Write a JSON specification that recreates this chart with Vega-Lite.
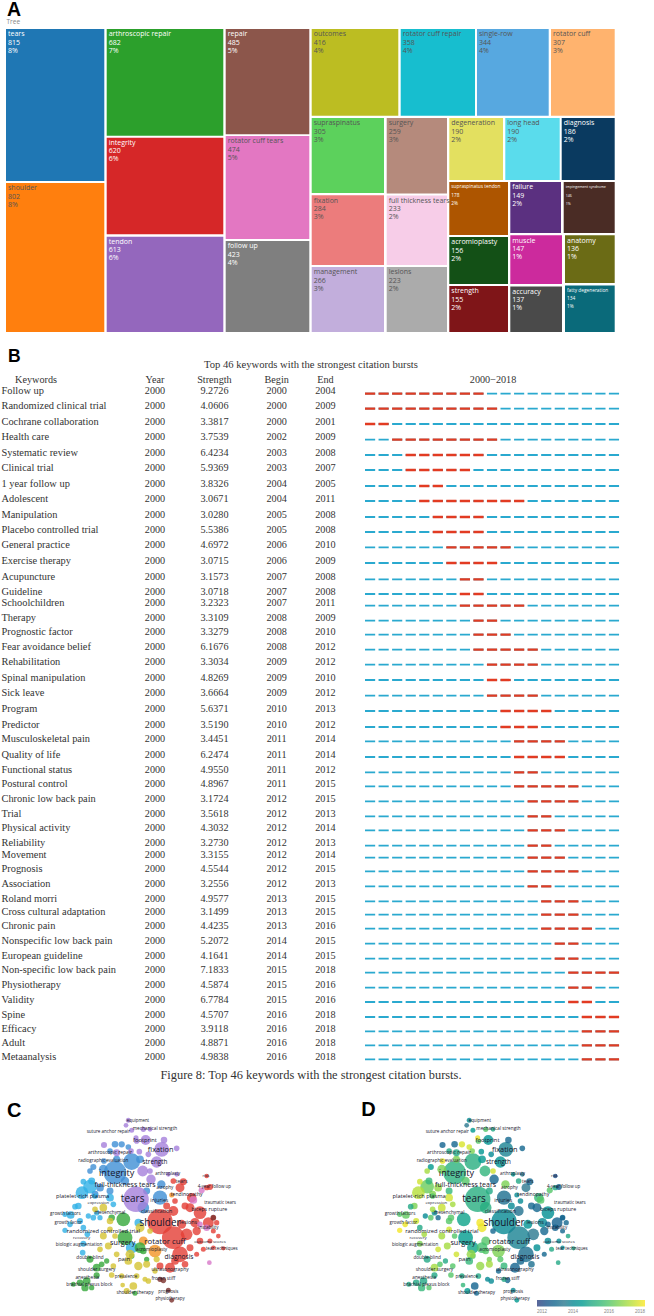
{"$schema":"https://vega.github.io/schema/vega-lite/v6.json","padding":0,"spacing":0,"bounds":"flush","background":"white","config":{"view":{"stroke":null},"axis":{"disable":true},"text":{"font":"Open Sans"}},
"datasets":{
"one":[{"note":"single annotation"}],
"cells":[
{"name":"tears","n":815,"pct":"8%","x0":6,"x1":104.3,"y0":28,"y1":180},
{"name":"shoulder","n":802,"pct":"8%","x0":6,"x1":104.3,"y0":182,"y1":331},
{"name":"arthroscopic repair","n":682,"pct":"7%","x0":106.7,"x1":223.3,"y0":28,"y1":134.7},
{"name":"integrity","n":620,"pct":"6%","x0":106.7,"x1":223.3,"y0":136.7,"y1":233.3},
{"name":"tendon","n":613,"pct":"6%","x0":106.7,"x1":223.3,"y0":235.7,"y1":331},
{"name":"repair","n":485,"pct":"5%","x0":225.7,"x1":309.3,"y0":28,"y1":133.3},
{"name":"rotator cuff tears","n":474,"pct":"5%","x0":225.7,"x1":309.3,"y0":135,"y1":238},
{"name":"follow up","n":423,"pct":"4%","x0":225.7,"x1":309.3,"y0":240,"y1":331},
{"name":"outcomes","n":416,"pct":"4%","x0":311.7,"x1":398.3,"y0":28,"y1":114.7},
{"name":"rotator cuff repair","n":358,"pct":"4%","x0":400.7,"x1":475,"y0":28,"y1":114.7},
{"name":"single-row","n":344,"pct":"4%","x0":477,"x1":548.7,"y0":28,"y1":114.7},
{"name":"rotator cuff","n":307,"pct":"3%","x0":551,"x1":614.7,"y0":28,"y1":114.7},
{"name":"supraspinatus","n":305,"pct":"3%","x0":311.7,"x1":384,"y0":117,"y1":192},
{"name":"surgery","n":259,"pct":"3%","x0":386.7,"x1":447,"y0":117,"y1":192.5},
{"name":"degeneration","n":190,"pct":"2%","x0":449.3,"x1":503,"y0":117,"y1":179},
{"name":"long head","n":190,"pct":"2%","x0":505.3,"x1":559.7,"y0":117,"y1":179},
{"name":"diagnosis","n":186,"pct":"2%","x0":561.7,"x1":614.7,"y0":117,"y1":179},
{"name":"fixation","n":284,"pct":"3%","x0":311.7,"x1":384,"y0":194.3,"y1":264},
{"name":"full thickness tears","n":233,"pct":"2%","x0":386.7,"x1":447,"y0":194.5,"y1":264},
{"name":"management","n":266,"pct":"3%","x0":311.7,"x1":384,"y0":266,"y1":331},
{"name":"lesions","n":223,"pct":"2%","x0":386.7,"x1":447,"y0":266,"y1":331},
{"name":"supraspinatus tendon","n":178,"pct":"2%","x0":449.3,"x1":508,"y0":181,"y1":234},
{"name":"failure","n":149,"pct":"2%","x0":510.3,"x1":561,"y0":181,"y1":232},
{"name":"impingement syndrome","n":146,"pct":"1%","x0":563.7,"x1":614.7,"y0":181,"y1":232},
{"name":"acromioplasty","n":156,"pct":"2%","x0":449.3,"x1":508,"y0":236,"y1":283},
{"name":"muscle","n":147,"pct":"1%","x0":510.3,"x1":562,"y0":234.3,"y1":283},
{"name":"anatomy","n":136,"pct":"1%","x0":565,"x1":614.7,"y0":234.3,"y1":282},
{"name":"strength","n":155,"pct":"2%","x0":449.3,"x1":508,"y0":285,"y1":331},
{"name":"accuracy","n":137,"pct":"1%","x0":510.3,"x1":562,"y0":285.5,"y1":331},
{"name":"fatty degeneration","n":134,"pct":"1%","x0":565,"x1":614.7,"y0":284.5,"y1":331}
],
"keywords":[
{"keyword":"Follow up","year":2000,"strength":"9.2726","begin":2000,"end":2004,"barEnd":2008,"line":390.3},
{"keyword":"Randomized clinical trial","year":2000,"strength":"4.0606","begin":2000,"end":2009,"barEnd":2009,"line":405.3},
{"keyword":"Cochrane collaboration","year":2000,"strength":"3.3817","begin":2000,"end":2001,"barEnd":2001,"line":420.7},
{"keyword":"Health care","year":2000,"strength":"3.7539","begin":2002,"end":2009,"barEnd":2009,"line":436.3},
{"keyword":"Systematic review","year":2000,"strength":"6.4234","begin":2003,"end":2008,"barEnd":2008,"line":451.7},
{"keyword":"Clinical trial","year":2000,"strength":"5.9369","begin":2003,"end":2007,"barEnd":2007,"line":466.7},
{"keyword":"1 year follow up","year":2000,"strength":"3.8326","begin":2004,"end":2005,"barEnd":2005,"line":482.7},
{"keyword":"Adolescent","year":2000,"strength":"3.0671","begin":2004,"end":2011,"barEnd":2011,"line":497.7},
{"keyword":"Manipulation","year":2000,"strength":"3.0280","begin":2005,"end":2008,"barEnd":2008,"line":513.7},
{"keyword":"Placebo controlled trial","year":2000,"strength":"5.5386","begin":2005,"end":2008,"barEnd":2008,"line":528.7},
{"keyword":"General practice","year":2000,"strength":"4.6972","begin":2006,"end":2010,"barEnd":2010,"line":544},
{"keyword":"Exercise therapy","year":2000,"strength":"3.0715","begin":2006,"end":2009,"barEnd":2009,"line":559.7},
{"keyword":"Acupuncture","year":2000,"strength":"3.1573","begin":2007,"end":2008,"barEnd":2008,"line":576},
{"keyword":"Guideline","year":2000,"strength":"3.0718","begin":2007,"end":2008,"barEnd":2008,"line":590.7},
{"keyword":"Schoolchildren","year":2000,"strength":"3.2323","begin":2007,"end":2011,"barEnd":2011,"line":602.3},
{"keyword":"Therapy","year":2000,"strength":"3.3109","begin":2008,"end":2009,"barEnd":2009,"line":617.3},
{"keyword":"Prognostic factor","year":2000,"strength":"3.3279","begin":2008,"end":2010,"barEnd":2010,"line":631.3},
{"keyword":"Fear avoidance belief","year":2000,"strength":"6.1676","begin":2008,"end":2012,"barEnd":2012,"line":646.3},
{"keyword":"Rehabilitation","year":2000,"strength":"3.3034","begin":2009,"end":2012,"barEnd":2012,"line":661.3},
{"keyword":"Spinal manipulation","year":2000,"strength":"4.8269","begin":2009,"end":2010,"barEnd":2010,"line":676.7},
{"keyword":"Sick leave","year":2000,"strength":"3.6664","begin":2009,"end":2012,"barEnd":2012,"line":692.3},
{"keyword":"Program","year":2000,"strength":"5.6371","begin":2010,"end":2013,"barEnd":2013,"line":707.7},
{"keyword":"Predictor","year":2000,"strength":"3.5190","begin":2010,"end":2012,"barEnd":2012,"line":723.7},
{"keyword":"Musculoskeletal pain","year":2000,"strength":"3.4451","begin":2011,"end":2014,"barEnd":2014,"line":738},
{"keyword":"Quality of life","year":2000,"strength":"6.2474","begin":2011,"end":2014,"barEnd":2014,"line":753.7},
{"keyword":"Functional status","year":2000,"strength":"4.9550","begin":2011,"end":2012,"barEnd":2012,"line":769},
{"keyword":"Postural control","year":2000,"strength":"4.8967","begin":2011,"end":2015,"barEnd":2015,"line":783},
{"keyword":"Chronic low back pain","year":2000,"strength":"3.1724","begin":2012,"end":2015,"barEnd":2015,"line":798},
{"keyword":"Trial","year":2000,"strength":"3.5618","begin":2012,"end":2013,"barEnd":2013,"line":813},
{"keyword":"Physical activity","year":2000,"strength":"4.3032","begin":2012,"end":2014,"barEnd":2014,"line":827},
{"keyword":"Reliability","year":2000,"strength":"3.2730","begin":2012,"end":2013,"barEnd":2013,"line":842.3},
{"keyword":"Movement","year":2000,"strength":"3.3155","begin":2012,"end":2014,"barEnd":2014,"line":854.3},
{"keyword":"Prognosis","year":2000,"strength":"4.5544","begin":2012,"end":2015,"barEnd":2015,"line":868},
{"keyword":"Association","year":2000,"strength":"3.2556","begin":2012,"end":2013,"barEnd":2013,"line":883},
{"keyword":"Roland morri","year":2000,"strength":"4.9577","begin":2013,"end":2015,"barEnd":2015,"line":898},
{"keyword":"Cross cultural adaptation","year":2000,"strength":"3.1499","begin":2013,"end":2015,"barEnd":2015,"line":911.3},
{"keyword":"Chronic pain","year":2000,"strength":"4.4235","begin":2013,"end":2016,"barEnd":2016,"line":925.3},
{"keyword":"Nonspecific low back pain","year":2000,"strength":"5.2072","begin":2014,"end":2015,"barEnd":2015,"line":940.3},
{"keyword":"European guideline","year":2000,"strength":"4.1641","begin":2014,"end":2015,"barEnd":2015,"line":955.3},
{"keyword":"Non-specific low back pain","year":2000,"strength":"7.1833","begin":2015,"end":2018,"barEnd":2018,"line":969.3},
{"keyword":"Physiotherapy","year":2000,"strength":"4.5874","begin":2015,"end":2016,"barEnd":2016,"line":984.3},
{"keyword":"Validity","year":2000,"strength":"6.7784","begin":2015,"end":2016,"barEnd":2016,"line":998.7},
{"keyword":"Spine","year":2000,"strength":"4.5707","begin":2016,"end":2018,"barEnd":2018,"line":1013.7},
{"keyword":"Efficacy","year":2000,"strength":"3.9118","begin":2016,"end":2018,"barEnd":2018,"line":1028},
{"keyword":"Adult","year":2000,"strength":"4.8871","begin":2016,"end":2018,"barEnd":2018,"line":1042},
{"keyword":"Metaanalysis","year":2000,"strength":"4.9838","begin":2016,"end":2018,"barEnd":2018,"line":1056}
],
"bubbles":[
{"x":345,"y":245,"n":620,"cluster":"blue","year":2015.3},{"x":395,"y":212,"n":300,"cluster":"blue","year":2015.2},{"x":310,"y":235,"n":60,"cluster":"blue","year":2016.5},{"x":420,"y":205,"n":40,"cluster":"blue","year":2014.5},{"x":365,"y":160,"n":22,"cluster":"blue","year":2017.6},{"x":385,"y":168,"n":15,"cluster":"blue","year":2017.5},{"x":345,"y":160,"n":25,"cluster":"blue","year":2013},{"x":330,"y":180,"n":15,"cluster":"blue","year":2015},{"x":312,"y":210,"n":15,"cluster":"blue","year":2017.8},{"x":280,"y":228,"n":20,"cluster":"blue","year":2014.5},{"x":270,"y":240,"n":15,"cluster":"blue","year":2017},{"x":330,"y":300,"n":30,"cluster":"blue","year":2015.5},{"x":300,"y":290,"n":40,"cluster":"blue","year":2016.8},{"x":480,"y":320,"n":200,"cluster":"blue","year":2013.2},{"x":484,"y":280,"n":50,"cluster":"blue","year":2016.5},{"x":440,"y":300,"n":30,"cluster":"blue","year":2015},{"x":430,"y":350,"n":120,"cluster":"blue","year":2015.2},{"x":375,"y":270,"n":50,"cluster":"blue","year":2016},{"x":350,"y":205,"n":30,"cluster":"blue","year":2016.5},{"x":285,"y":310,"n":30,"cluster":"blue","year":2016.6},
{"x":270,"y":287,"n":180,"cluster":"sky","year":2016.3},{"x":246,"y":305,"n":150,"cluster":"sky","year":2017.2},{"x":275,"y":270,"n":30,"cluster":"sky","year":2015.5},{"x":250,"y":272,"n":15,"cluster":"sky","year":2017.5},{"x":235,"y":345,"n":25,"cluster":"sky","year":2016.5},{"x":225,"y":347,"n":15,"cluster":"sky","year":2015},{"x":212,"y":372,"n":40,"cluster":"sky","year":2016.2},{"x":195,"y":370,"n":12,"cluster":"sky","year":2016},{"x":210,"y":400,"n":15,"cluster":"sky","year":2017.8},{"x":240,"y":390,"n":20,"cluster":"sky","year":2017.5},{"x":290,"y":365,"n":15,"cluster":"sky","year":2014},{"x":300,"y":380,"n":12,"cluster":"sky","year":2013},{"x":280,"y":380,"n":15,"cluster":"sky","year":2016},{"x":195,"y":418,"n":12,"cluster":"sky","year":2017.9},{"x":250,"y":410,"n":15,"cluster":"sky","year":2015},{"x":262,"y":430,"n":15,"cluster":"sky","year":2017},{"x":250,"y":458,"n":18,"cluster":"sky","year":2016.5},{"x":248,"y":485,"n":15,"cluster":"sky","year":2015.5},{"x":330,"y":320,"n":40,"cluster":"sky","year":2017.5},{"x":415,"y":395,"n":40,"cluster":"sky","year":2017.9},{"x":395,"y":470,"n":120,"cluster":"sky","year":2014.8},{"x":285,"y":315,"n":15,"cluster":"sky","year":2016},{"x":265,"y":375,"n":12,"cluster":"sky","year":2014},{"x":340,"y":340,"n":15,"cluster":"sky","year":2017},
{"x":485,"y":175,"n":220,"cluster":"purple","year":2013.8},{"x":437,"y":147,"n":80,"cluster":"purple","year":2014.3},{"x":428,"y":240,"n":100,"cluster":"purple","year":2015.4},{"x":470,"y":213,"n":110,"cluster":"purple","year":2014.3},{"x":492,"y":147,"n":25,"cluster":"purple","year":2013},{"x":410,"y":150,"n":15,"cluster":"purple","year":2016},{"x":530,"y":172,"n":15,"cluster":"purple","year":2013},{"x":312,"y":162,"n":20,"cluster":"purple","year":2012.9},{"x":350,"y":185,"n":30,"cluster":"purple","year":2015},{"x":393,"y":180,"n":15,"cluster":"purple","year":2016.5},{"x":418,"y":182,"n":15,"cluster":"purple","year":2014.4},{"x":453,"y":265,"n":70,"cluster":"purple","year":2013},{"x":385,"y":88,"n":10,"cluster":"purple","year":2014},{"x":378,"y":103,"n":8,"cluster":"purple","year":2013.5},{"x":395,"y":118,"n":10,"cluster":"purple","year":2014.5},{"x":430,"y":115,"n":12,"cluster":"purple","year":2016},{"x":450,"y":115,"n":8,"cluster":"purple","year":2015},{"x":408,"y":140,"n":10,"cluster":"purple","year":2017.8},{"x":450,"y":240,"n":15,"cluster":"purple","year":2017.5},{"x":530,"y":250,"n":8,"cluster":"purple","year":2013.4},{"x":505,"y":250,"n":8,"cluster":"purple","year":2014.5},{"x":445,"y":190,"n":15,"cluster":"purple","year":2014},
{"x":480,"y":392,"n":802,"cluster":"red","year":2014},{"x":520,"y":440,"n":620,"cluster":"red","year":2013.8},{"x":540,"y":490,"n":250,"cluster":"red","year":2013.2},{"x":600,"y":365,"n":150,"cluster":"red","year":2014.2},{"x":625,"y":395,"n":100,"cluster":"red","year":2012.8},{"x":570,"y":350,"n":60,"cluster":"red","year":2013},{"x":540,"y":290,"n":60,"cluster":"red","year":2013.5},{"x":550,"y":272,"n":30,"cluster":"red","year":2013},{"x":520,"y":270,"n":15,"cluster":"red","year":2015},{"x":575,"y":320,"n":70,"cluster":"red","year":2015.5},{"x":560,"y":430,"n":120,"cluster":"red","year":2013.5},{"x":620,"y":290,"n":12,"cluster":"red","year":2015},{"x":630,"y":288,"n":18,"cluster":"red","year":2012.8},{"x":590,"y":420,"n":50,"cluster":"red","year":2013},{"x":510,"y":530,"n":80,"cluster":"red","year":2012.9},{"x":525,"y":510,"n":40,"cluster":"red","year":2013},{"x":480,"y":525,"n":30,"cluster":"red","year":2015.5},{"x":555,"y":520,"n":25,"cluster":"red","year":2013.2},{"x":600,"y":450,"n":25,"cluster":"red","year":2014},{"x":650,"y":395,"n":12,"cluster":"red","year":2013},{"x":640,"y":380,"n":10,"cluster":"red","year":2012.6},{"x":620,"y":255,"n":6,"cluster":"red","year":2012.4},{"x":655,"y":435,"n":8,"cluster":"red","year":2015},{"x":640,"y":420,"n":10,"cluster":"red","year":2013},{"x":630,"y":450,"n":10,"cluster":"red","year":2014},{"x":610,"y":475,"n":10,"cluster":"red","year":2015},{"x":590,"y":490,"n":10,"cluster":"red","year":2013},{"x":570,"y":470,"n":30,"cluster":"red","year":2014.2},{"x":520,"y":360,"n":80,"cluster":"red","year":2013.3},{"x":500,"y":345,"n":30,"cluster":"red","year":2014},{"x":525,"y":330,"n":15,"cluster":"red","year":2014},{"x":640,"y":470,"n":6,"cluster":"red","year":2014},{"x":670,"y":472,"n":5,"cluster":"red","year":2015},{"x":555,"y":345,"n":30,"cluster":"red","year":2013},{"x":585,"y":395,"n":70,"cluster":"red","year":2014},{"x":545,"y":400,"n":60,"cluster":"red","year":2014.3},
{"x":580,"y":327,"n":40,"cluster":"pink","year":2016},{"x":605,"y":298,"n":20,"cluster":"pink","year":2016},{"x":628,"y":515,"n":8,"cluster":"pink","year":2015},{"x":620,"y":410,"n":25,"cluster":"pink","year":2012.8},{"x":600,"y":400,"n":15,"cluster":"pink","year":2013},
{"x":490,"y":568,"n":15,"cluster":"brown","year":2013},{"x":505,"y":598,"n":10,"cluster":"brown","year":2014},{"x":515,"y":628,"n":8,"cluster":"brown","year":2014.5},{"x":480,"y":565,"n":12,"cluster":"brown","year":2015},{"x":640,"y":380,"n":15,"cluster":"brown","year":2013},
{"x":465,"y":480,"n":150,"cluster":"orange","year":2016.5},{"x":430,"y":450,"n":60,"cluster":"orange","year":2016},{"x":515,"y":312,"n":10,"cluster":"orange","year":2014},
{"x":370,"y":385,"n":180,"cluster":"green","year":2014.8},{"x":375,"y":440,"n":220,"cluster":"green","year":2014.6},{"x":420,"y":470,"n":100,"cluster":"green","year":2015.8},{"x":335,"y":380,"n":25,"cluster":"green","year":2016},{"x":270,"y":505,"n":30,"cluster":"green","year":2015},{"x":290,"y":530,"n":40,"cluster":"green","year":2017},{"x":305,"y":520,"n":15,"cluster":"green","year":2016},{"x":290,"y":553,"n":20,"cluster":"green","year":2015},{"x":260,"y":570,"n":40,"cluster":"green","year":2015},{"x":255,"y":590,"n":35,"cluster":"green","year":2015.5},{"x":240,"y":575,"n":25,"cluster":"green","year":2015},{"x":275,"y":590,"n":12,"cluster":"green","year":2016},{"x":320,"y":510,"n":12,"cluster":"green","year":2015},{"x":405,"y":607,"n":10,"cluster":"green","year":2013},{"x":430,"y":480,"n":25,"cluster":"green","year":2016},{"x":395,"y":495,"n":15,"cluster":"green","year":2016},{"x":220,"y":580,"n":10,"cluster":"green","year":2015},{"x":440,"y":505,"n":12,"cluster":"green","year":2016.5},
{"x":310,"y":350,"n":40,"cluster":"yellow","year":2017.4},{"x":285,"y":355,"n":15,"cluster":"yellow","year":2017},{"x":330,"y":390,"n":25,"cluster":"yellow","year":2016},{"x":310,"y":435,"n":30,"cluster":"yellow","year":2017},{"x":325,"y":465,"n":30,"cluster":"yellow","year":2017},{"x":330,"y":415,"n":15,"cluster":"yellow","year":2017.5},{"x":345,"y":435,"n":15,"cluster":"yellow","year":2016},{"x":420,"y":410,"n":60,"cluster":"yellow","year":2017.8},{"x":390,"y":490,"n":60,"cluster":"yellow","year":2016.8},{"x":415,"y":525,"n":50,"cluster":"yellow","year":2016.8},{"x":385,"y":510,"n":40,"cluster":"yellow","year":2015.5},{"x":440,"y":520,"n":30,"cluster":"yellow","year":2017},{"x":400,"y":585,"n":40,"cluster":"yellow","year":2012.9},{"x":380,"y":600,"n":20,"cluster":"yellow","year":2014.5},{"x":335,"y":552,"n":15,"cluster":"yellow","year":2016},{"x":365,"y":555,"n":12,"cluster":"yellow","year":2015},{"x":445,"y":570,"n":15,"cluster":"yellow","year":2014},{"x":410,"y":555,"n":15,"cluster":"yellow","year":2015},{"x":350,"y":490,"n":15,"cluster":"yellow","year":2017.5},{"x":470,"y":505,"n":20,"cluster":"yellow","year":2016},{"x":465,"y":540,"n":12,"cluster":"yellow","year":2013},{"x":435,"y":565,"n":10,"cluster":"yellow","year":2014},{"x":368,"y":582,"n":8,"cluster":"yellow","year":2015.5},{"x":300,"y":475,"n":15,"cluster":"yellow","year":2017.5},{"x":340,"y":525,"n":15,"cluster":"yellow","year":2016},{"x":450,"y":420,"n":15,"cluster":"yellow","year":2013},
{"x":408,"y":325,"n":815,"cluster":"purple","year":2015.2}
],
"labels":[
{"x":398,"y":325,"label":"tears","n":815},{"x":480,"y":395,"label":"shoulder","n":802},{"x":350,"y":246,"label":"integrity","n":620},{"x":495,"y":453,"label":"rotator cuff","n":360},{"x":482,"y":178,"label":"fixation","n":284},{"x":375,"y":281,"label":"full-thickness tears","n":233},{"x":368,"y":455,"label":"surgery","n":259},{"x":465,"y":214,"label":"strength","n":155},{"x":537,"y":497,"label":"diagnosis","n":186},{"x":435,"y":148,"label":"footprint","n":100},{"x":248,"y":314,"label":"platelet-rich plasma","n":100},{"x":310,"y":420,"label":"randomized controlled trial","n":100},{"x":372,"y":505,"label":"pain","n":120},{"x":470,"y":360,"label":"classification","n":60},{"x":565,"y":392,"label":"lesions","n":70},{"x":628,"y":355,"label":"biceps rupture","n":60},{"x":560,"y":310,"label":"tendinopathy","n":50},{"x":478,"y":326,"label":"injuries","n":60},{"x":545,"y":272,"label":"tears","n":40},{"x":495,"y":292,"label":"atrophy","n":25},{"x":330,"y":185,"label":"arthroscopic repair","n":40},{"x":310,"y":209,"label":"radiographic evaluation","n":22},{"x":325,"y":123,"label":"suture anchor repair","n":20},{"x":465,"y":115,"label":"mechanical strength","n":28},{"x":414,"y":90,"label":"equipment","n":15},{"x":643,"y":289,"label":"4-year follow up","n":18},{"x":660,"y":337,"label":"traumatic tears","n":18},{"x":618,"y":254,"label":"risk","n":10},{"x":665,"y":473,"label":"tear techniques","n":15},{"x":510,"y":538,"label":"ultrasonography","n":35},{"x":290,"y":537,"label":"shoulder surgery","n":30},{"x":262,"y":562,"label":"anesthesia","n":30},{"x":268,"y":582,"label":"brachial plexus block","n":30},{"x":405,"y":606,"label":"shoulder therapy","n":25},{"x":270,"y":500,"label":"double-blind","n":25},{"x":490,"y":565,"label":"frozen stiff","n":30},{"x":196,"y":368,"label":"growth factors","n":20},{"x":205,"y":397,"label":"growth factor","n":15},{"x":330,"y":366,"label":"mesenchymal","n":30},{"x":237,"y":461,"label":"biologic augmentation","n":18},{"x":245,"y":442,"label":"recovery","n":12},{"x":510,"y":625,"label":"physiotherapy","n":15},{"x":505,"y":602,"label":"prognosis","n":15},{"x":455,"y":478,"label":"acromioplasty","n":30},{"x":378,"y":558,"label":"prevalence","n":15},{"x":503,"y":250,"label":"arthroplasty","n":15},{"x":295,"y":337,"label":"expression","n":12},{"x":625,"y":410,"label":"instability","n":20},{"x":630,"y":452,"label":"outcome scores","n":12}
]},
"vconcat":[
{"width":654,"height":340,
"layer":[
{"data":{"name":"cells"},
"encoding":{"x":{"field":"x0","type":"quantitative","scale":{"domain":[0,654],"nice":false,"zero":false}},"y":{"field":"y0","type":"quantitative","scale":{"domain":[0,340],"reverse":true,"nice":false,"zero":false}}},
"layer":[
{"mark":{"type":"rect"},"encoding":{"x2":{"field":"x1"},"y2":{"field":"y1"},"color":{"field":"name","type":"nominal","legend":null,"scale":{"domain":["tears","shoulder","arthroscopic repair","integrity","tendon","repair","rotator cuff tears","follow up","outcomes","rotator cuff repair","single-row","rotator cuff","supraspinatus","surgery","degeneration","long head","diagnosis","fixation","full thickness tears","management","lesions","supraspinatus tendon","failure","impingement syndrome","acromioplasty","muscle","anatomy","strength","accuracy","fatty degeneration"],"range":["#1f77b4","#ff7f0e","#2ca02c","#d62728","#9467bd","#8c564b","#e377c2","#7f7f7f","#bcbd22","#17becf","#57a8e0","#ffb36e","#5cd15c","#b58a7c","#e3e060","#5adcec","#0a3a60","#ec7c7c","#f7cde8","#c2aedc","#ababab","#ad5500","#5b3080","#4a2c25","#135016","#cc2a9d","#6b6b15","#7f1518","#4a4a4a","#0a6a7a"]}}}},
{"mark":{"type":"text","align":"left","baseline":"middle","dx":2,"dy":5.3},"encoding":{"text":{"field":"name","type":"nominal"},"size":{"condition":[{"test":"datum.name=='impingement syndrome'","value":3.6},{"test":"indexof(['supraspinatus tendon','fatty degeneration'],datum.name)>=0","value":4.8}],"value":7},"color":{"condition":{"test":"indexof(['tears','arthroscopic repair','integrity','tendon','repair','follow up','diagnosis','supraspinatus tendon','failure','impingement syndrome','acromioplasty','muscle','anatomy','strength','accuracy','fatty degeneration'],datum.name)>=0","value":"#ffffff"},"value":"#555555"}}},
{"mark":{"type":"text","align":"left","baseline":"middle","dx":2,"dy":13.7},"encoding":{"text":{"field":"n","type":"nominal"},"size":{"condition":[{"test":"datum.name=='impingement syndrome'","value":3.6},{"test":"indexof(['supraspinatus tendon','fatty degeneration'],datum.name)>=0","value":4.8}],"value":7},"color":{"condition":{"test":"indexof(['tears','arthroscopic repair','integrity','tendon','repair','follow up','diagnosis','supraspinatus tendon','failure','impingement syndrome','acromioplasty','muscle','anatomy','strength','accuracy','fatty degeneration'],datum.name)>=0","value":"#ffffff"},"value":"#555555"}}},
{"mark":{"type":"text","align":"left","baseline":"middle","dx":2,"dy":21.7},"encoding":{"text":{"field":"pct","type":"nominal"},"size":{"condition":[{"test":"datum.name=='impingement syndrome'","value":3.6},{"test":"indexof(['supraspinatus tendon','fatty degeneration'],datum.name)>=0","value":4.8}],"value":7},"color":{"condition":{"test":"indexof(['tears','arthroscopic repair','integrity','tendon','repair','follow up','diagnosis','supraspinatus tendon','failure','impingement syndrome','acromioplasty','muscle','anatomy','strength','accuracy','fatty degeneration'],datum.name)>=0","value":"#ffffff"},"value":"#555555"}}}
]},
{"data":{"name":"one"},"mark":{"type":"text","text":"A","font":"Liberation Sans","fontWeight":"bold","fontSize":19.5,"align":"left","baseline":"alphabetic","color":"#000"},"encoding":{"x":{"datum":7},"y":{"datum":15}}},
{"data":{"name":"one"},"mark":{"type":"text","text":"Tree","fontSize":6.5,"align":"left","baseline":"middle","color":"#888"},"encoding":{"x":{"datum":6.5},"y":{"datum":21}}}
]},
{"width":654,"height":750,
"layer":[
{"data":{"name":"keywords"},
"encoding":{"y":{"field":"line","type":"quantitative","scale":{"domain":[340,1090],"reverse":true,"nice":false,"zero":false}}},
"layer":[
{"mark":{"type":"rule","stroke":"#2aa9cf","strokeWidth":1.8,"strokeDash":[10.16,3.39],"yOffset":2.3},"encoding":{"x":{"datum":2000,"scale":{"domain":[1973.063,2021.328],"nice":false,"zero":false}},"x2":{"datum":2018.75}}},
{"transform":[{"calculate":"datum.barEnd+0.75","as":"stop"}],"mark":{"type":"rule","stroke":"#e23b22","strokeWidth":2.3,"strokeDash":[10.16,3.39],"yOffset":2.3},"encoding":{"x":{"field":"begin","type":"quantitative"},"x2":{"field":"stop"}}},
{"mark":{"type":"text","font":"Liberation Serif","fontSize":10.4,"align":"left","baseline":"middle","color":"#333"},"encoding":{"x":{"datum":1973.17},"text":{"field":"keyword","type":"nominal"}}},
{"mark":{"type":"text","font":"Liberation Serif","fontSize":10.2,"baseline":"middle","color":"#333"},"encoding":{"x":{"datum":1984.5},"text":{"field":"year","type":"nominal"}}},
{"mark":{"type":"text","font":"Liberation Serif","fontSize":10.2,"baseline":"middle","color":"#333"},"encoding":{"x":{"datum":1988.89},"text":{"field":"strength","type":"nominal"}}},
{"mark":{"type":"text","font":"Liberation Serif","fontSize":10.2,"baseline":"middle","color":"#333"},"encoding":{"x":{"datum":1993.48},"text":{"field":"begin","type":"nominal"}}},
{"mark":{"type":"text","font":"Liberation Serif","fontSize":10.2,"baseline":"middle","color":"#333"},"encoding":{"x":{"datum":1997.08},"text":{"field":"end","type":"nominal"}}}
]},
{"data":{"name":"one"},"mark":{"type":"text","text":"Keywords","font":"Liberation Serif","fontSize":10.2,"baseline":"middle","color":"#333"},"encoding":{"x":{"datum":1975.72},"y":{"datum":379.3}}},
{"data":{"name":"one"},"mark":{"type":"text","text":"Year","font":"Liberation Serif","fontSize":10.2,"baseline":"middle","color":"#333"},"encoding":{"x":{"datum":1984.5},"y":{"datum":379.3}}},
{"data":{"name":"one"},"mark":{"type":"text","text":"Strength","font":"Liberation Serif","fontSize":10.2,"baseline":"middle","color":"#333"},"encoding":{"x":{"datum":1988.89},"y":{"datum":379.3}}},
{"data":{"name":"one"},"mark":{"type":"text","text":"Begin","font":"Liberation Serif","fontSize":10.2,"baseline":"middle","color":"#333"},"encoding":{"x":{"datum":1993.48},"y":{"datum":379.3}}},
{"data":{"name":"one"},"mark":{"type":"text","text":"End","font":"Liberation Serif","fontSize":10.2,"baseline":"middle","color":"#333"},"encoding":{"x":{"datum":1997.08},"y":{"datum":379.3}}},
{"data":{"name":"one"},"mark":{"type":"text","text":"2000−2018","font":"Liberation Serif","fontSize":10.2,"baseline":"middle","color":"#333"},"encoding":{"x":{"datum":2009.45},"y":{"datum":379.3}}},
{"data":{"name":"one"},"mark":{"type":"text","text":"Top 46 keywords with the strongest citation bursts","font":"Liberation Serif","fontSize":10.6,"baseline":"middle","color":"#333"},"encoding":{"x":{"datum":1996.01},"y":{"datum":364}}},
{"data":{"name":"one"},"mark":{"type":"text","text":"Figure 8: Top 46 keywords with the strongest citation bursts.","font":"Liberation Serif","fontSize":12.4,"baseline":"middle","color":"#333"},"encoding":{"x":{"datum":1996.01},"y":{"datum":1073.7}}},
{"data":{"name":"one"},"mark":{"type":"text","text":"B","font":"Liberation Sans","fontWeight":"bold","fontSize":17.5,"align":"left","baseline":"alphabetic","color":"#000"},"encoding":{"x":{"datum":1973.65},"y":{"datum":361}}}
]},
{"spacing":0,"bounds":"flush","hconcat":[
{"width":327,"height":226,
"layer":[
{"data":{"name":"bubbles"},"mark":{"type":"circle","opacity":0.8},"encoding":{"x":{"field":"x","type":"quantitative","scale":{"domain":[0,981],"nice":false,"zero":false}},"y":{"field":"y","type":"quantitative","scale":{"domain":[0,678],"reverse":true,"nice":false,"zero":false}},"size":{"field":"n","type":"quantitative","legend":null,"scale":{"type":"pow","exponent":0.85,"domain":[0,815],"range":[10,650]}},"color":{"field":"cluster","type":"nominal","legend":null,"scale":{"domain":["blue","sky","purple","red","pink","brown","orange","green","yellow"],"range":["#3f8fd4","#2fb0e6","#a57fdb","#e43d35","#d777c8","#7a2f2c","#f39325","#35a83a","#d4c332"]}}}},
{"data":{"name":"labels"},"mark":{"type":"text","font":"Open Sans","color":"#14142a","baseline":"middle"},"encoding":{"x":{"field":"x","type":"quantitative"},"y":{"field":"y","type":"quantitative"},"text":{"field":"label","type":"nominal"},"size":{"field":"n","type":"quantitative","legend":null,"scale":{"type":"sqrt","domain":[0,815],"range":[3.5,10]}}}},
{"data":{"name":"one"},"mark":{"type":"text","text":"C","font":"Liberation Sans","fontWeight":"bold","fontSize":20,"align":"left","baseline":"alphabetic","color":"#000"},"encoding":{"x":{"datum":21},"y":{"datum":77}}}
],"resolve":{"scale":{"size":"independent"}}},
{"width":327,"height":226,
"layer":[
{"data":{"name":"bubbles"},"mark":{"type":"circle","opacity":0.8},"encoding":{"x":{"field":"x","type":"quantitative","scale":{"domain":[-3.6,889.8],"nice":false,"zero":false}},"y":{"field":"y","type":"quantitative","scale":{"domain":[0,678],"reverse":true,"nice":false,"zero":false}},"size":{"field":"n","type":"quantitative","legend":null,"scale":{"type":"pow","exponent":0.85,"domain":[0,815],"range":[10,650]}},"color":{"field":"year","type":"quantitative","scale":{"domain":[2012,2018],"range":["#2f3f80","#2a788e","#22a884","#7ad151","#fde725"]},"legend":{"orient":"none","legendX":210,"legendY":209,"direction":"horizontal","title":null,"gradientLength":108,"gradientThickness":6.5,"values":[2012,2014,2016,2018],"labelFontSize":4.5,"labelColor":"#888","format":"d","labelOverlap":false}}}},
{"data":{"name":"labels"},"mark":{"type":"text","font":"Open Sans","color":"#14142a","baseline":"middle"},"encoding":{"x":{"field":"x","type":"quantitative"},"y":{"field":"y","type":"quantitative"},"text":{"field":"label","type":"nominal"},"size":{"field":"n","type":"quantitative","legend":null,"scale":{"type":"sqrt","domain":[0,815],"range":[3.5,10]}}}},
{"data":{"name":"one"},"mark":{"type":"text","text":"D","font":"Liberation Sans","fontWeight":"bold","fontSize":20,"align":"left","baseline":"alphabetic","color":"#000"},"encoding":{"x":{"datum":90},"y":{"datum":75}}}
],"resolve":{"scale":{"size":"independent"}}}
]}
]}
